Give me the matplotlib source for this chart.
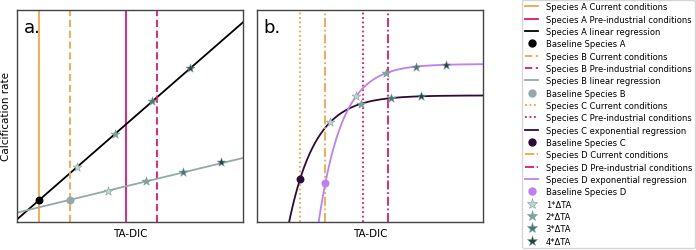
import numpy as np
import matplotlib
matplotlib.use("Agg")
import matplotlib.pyplot as plt
from matplotlib.lines import Line2D

# ---- data (axes units, 0..1) ----
# panel a: linear species
a_current, a_preind = 0.099, 0.482
b_current, b_preind = 0.236, 0.621
a_slope, a_icpt = 0.93, 0.012
b_slope, b_icpt = 0.258, 0.044
a_base = (0.099, 0.105)
b_base = (0.236, 0.105)
a_star_x = [0.267, 0.434, 0.599, 0.765]
a_star_y = [0.261, 0.415, 0.569, 0.725]
b_star_x = [0.401, 0.569, 0.735, 0.903]
b_star_y = [0.148, 0.192, 0.237, 0.281]

# panel b: exponential species  y = top - scale*exp(-rate*x)
c_current, c_preind = 0.190, 0.469
d_current, d_preind = 0.302, 0.581
c_top, c_scale, c_rate = 0.597, 2.01, 8.55
d_top, d_scale, d_rate = 0.745, 10.22, 9.6
c_base = (0.190, 0.201)
d_base = (0.302, 0.182)
c_star_x = [0.323, 0.459, 0.592, 0.726]
c_star_y = [0.470, 0.557, 0.585, 0.593]
d_star_x = [0.437, 0.569, 0.704, 0.838]
d_star_y = [0.593, 0.703, 0.733, 0.742]

star_labels = ["1*ΔTA", "2*ΔTA", "3*ΔTA", "4*ΔTA"]
star_colors = ["#b9dad2", "#72a89f", "#3a7e79", "#1c4844"]

ORANGE = "#f7a444"
CRIMSON = "#e0176e"
BLACK = "#000000"
GRAY = "#95a8a8"
DPURPLE = "#2d0b38"
LPURPLE = "#c07ff2"

fig = plt.figure(figsize=(6.96, 2.51), dpi=100)
ax1 = fig.add_axes([0.0244, 0.1116, 0.3247, 0.8446])
ax2 = fig.add_axes([0.3693, 0.1116, 0.3247, 0.8446])

lw = 1.3
x = np.linspace(0, 1, 400)

# -------------------------------------------------
ax1.axvline(a_current, color=ORANGE, lw=lw)
ax1.axvline(a_preind, color=CRIMSON, lw=lw)
ax1.plot(x, a_slope * x + a_icpt, color=BLACK, lw=lw)
ax1.axvline(b_current, color=ORANGE, lw=lw, ls=(0, (4, 2)))
ax1.axvline(b_preind, color=CRIMSON, lw=lw, ls=(0, (4, 2)))
ax1.plot(x, b_slope * x + b_icpt, color=GRAY, lw=lw)
ax1.scatter(*a_base, s=22, color=BLACK, zorder=5)
ax1.scatter(*b_base, s=22, color=GRAY, zorder=5)
for i in range(4):
    for sx, sy in [(a_star_x, a_star_y), (b_star_x, b_star_y)]:
        ax1.scatter(sx[i], sy[i], marker="*", s=45, color=star_colors[i],
                    edgecolor="#8a9a9a", linewidth=0.4, zorder=6)

# -------------------------------------------------
ax2.axvline(c_current, color=ORANGE, lw=lw, ls=(0, (1, 1.5)))
ax2.axvline(c_preind, color=CRIMSON, lw=lw, ls=(0, (1, 1.5)))
ax2.plot(x, c_top - c_scale * np.exp(-c_rate * x), color=DPURPLE, lw=lw)
ax2.axvline(d_current, color=ORANGE, lw=lw, ls=(0, (5, 1.5, 1, 1.5)))
ax2.axvline(d_preind, color=CRIMSON, lw=lw, ls=(0, (5, 1.5, 1, 1.5)))
ax2.plot(x, d_top - d_scale * np.exp(-d_rate * x), color=LPURPLE, lw=lw)
ax2.scatter(*c_base, s=22, color=DPURPLE, zorder=5)
ax2.scatter(*d_base, s=22, color=LPURPLE, zorder=5)
for i in range(4):
    for sx, sy in [(c_star_x, c_star_y), (d_star_x, d_star_y)]:
        ax2.scatter(sx[i], sy[i], marker="*", s=45, color=star_colors[i],
                    edgecolor="#8a9a9a", linewidth=0.4, zorder=6)

for ax, tag in [(ax1, "a."), (ax2, "b.")]:
    ax.set_xlim(0, 1)
    ax.set_ylim(0, 1)
    ax.set_xticks([])
    ax.set_yticks([])
    ax.set_xlabel("TA-DIC", fontsize=7.5, labelpad=4)
    for s in ax.spines.values():
        s.set_color("#444444")
        s.set_linewidth(1.0)
    ax.text(0.03, 0.96, tag, transform=ax.transAxes, fontsize=13,
            va="top", ha="left")
ax1.set_ylabel("Calcification rate", fontsize=7.5, labelpad=4)

# -------------------------------------------------
def ln(c, ls="-"):
    return Line2D([], [], color=c, lw=lw, ls=ls)


def dot(c):
    return Line2D([], [], color=c, marker="o", ls="none", ms=5)


def star(c):
    return Line2D([], [], color=c, marker="*", ls="none", ms=8,
                  markeredgecolor="#8a9a9a", markeredgewidth=0.4)


handles = [
    ln(ORANGE), ln(CRIMSON), ln(BLACK), dot(BLACK),
    ln(ORANGE, (0, (4, 2))), ln(CRIMSON, (0, (4, 2))), ln(GRAY), dot(GRAY),
    ln(ORANGE, (0, (1, 1.5))), ln(CRIMSON, (0, (1, 1.5))), ln(DPURPLE), dot(DPURPLE),
    ln(ORANGE, (0, (5, 1.5, 1, 1.5))), ln(CRIMSON, (0, (5, 1.5, 1, 1.5))), ln(LPURPLE), dot(LPURPLE),
] + [star(c) for c in star_colors]
labels = [
    "Species A Current conditions", "Species A Pre-industrial conditions",
    "Species A linear regression", "Baseline Species A",
    "Species B Current conditions", "Species B Pre-industrial conditions",
    "Species B linear regression", "Baseline Species B",
    "Species C Current conditions", "Species C Pre-industrial conditions",
    "Species C exponential regression", "Baseline Species C",
    "Species D Current conditions", "Species D Pre-industrial conditions",
    "Species D exponential regression", "Baseline Species D",
] + star_labels

fig.legend(handles, labels, loc="upper right", bbox_to_anchor=(0.998, 0.997),
           fontsize=6.0, labelspacing=0.40, handlelength=1.6, handletextpad=0.9,
           borderpad=0.3, borderaxespad=0.0, frameon=True, fancybox=True,
           edgecolor="#cccccc")

fig.savefig("out.png", dpi=100)
